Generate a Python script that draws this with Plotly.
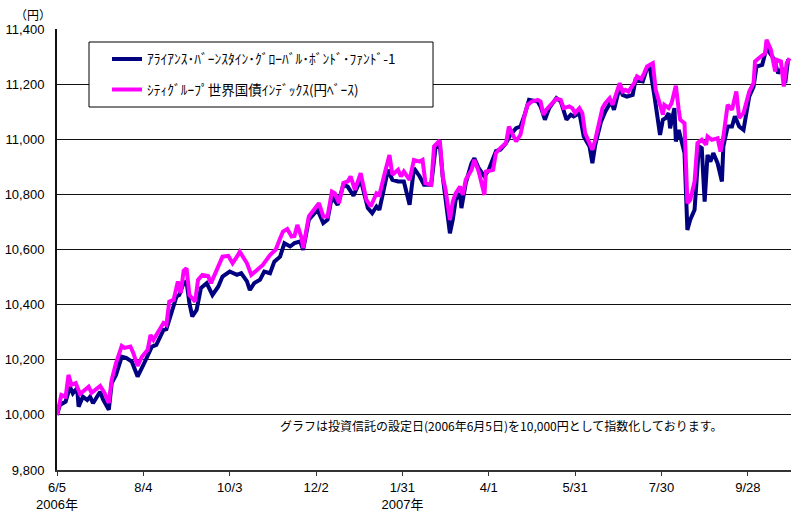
import pandas as pd
import plotly.graph_objects as go

LAUNCH = "2006-06-05"

# days since launch (2006-06-05) and index values
fund_days = [0, 2, 6, 9, 11, 14, 15, 18, 21, 23, 25, 30, 32, 36, 38, 41, 45, 48, 52, 56,
             60, 63, 66, 69, 74, 76, 80, 83, 85, 88, 90, 92, 94, 97, 100, 104, 108, 112, 115, 120,
             125, 128, 132, 134, 137, 141, 144, 148, 151, 155, 158, 162, 165, 169, 171, 175, 181, 185, 188, 191,
             195, 199, 202, 206, 211, 216, 219, 222, 224, 226, 230, 233, 237, 241, 245, 248, 252, 255, 260, 263,
             266, 268, 270, 273, 275, 277, 280, 281, 284, 288, 290, 293, 297, 300, 305, 308, 312, 315, 319, 322,
             325, 328, 334, 336, 339, 342, 347, 350, 354, 357, 359, 363, 366, 370, 372, 374, 378, 381, 385, 387,
             391, 393, 396, 400, 402, 407, 410, 412, 415, 417, 419, 421, 423, 425, 426, 429, 430, 432, 434, 436,
             438, 440, 443, 446, 448, 450, 452, 454, 456, 459, 462, 463, 466, 469, 471, 474, 477, 481, 484, 486,
             490, 493, 497, 499, 501, 504, 506, 508]
fund_values = [10000, 10036, 10048, 10102, 10078, 10098, 10030, 10066, 10054, 10066, 10042, 10084, 10056, 10018, 10115, 10145, 10211, 10207, 10193, 10139,
               10181, 10211, 10248, 10254, 10308, 10311, 10375, 10429, 10435, 10478, 10484, 10405, 10357, 10381, 10460, 10478, 10435, 10465, 10502, 10520,
               10508, 10514, 10484, 10453, 10478, 10490, 10520, 10514, 10556, 10574, 10623, 10611, 10623, 10629, 10599, 10708, 10744, 10696, 10708, 10792,
               10762, 10835, 10828, 10795, 10853, 10750, 10732, 10756, 10744, 10792, 10889, 10853, 10847, 10847, 10762, 10895, 10865, 10835, 10835, 10968,
               10980, 10865, 10792, 10659, 10708, 10780, 10804, 10750, 10841, 10913, 10931, 10895, 10865, 10889, 10957, 10962, 10986, 11016, 11040, 11046,
               11090, 11143, 11137, 11119, 11071, 11113, 11149, 11137, 11071, 11089, 11083, 11095, 11010, 10974, 10913, 10980, 11064, 11101, 11137, 11107,
               11191, 11161, 11155, 11161, 11216, 11210, 11258, 11258, 11161, 11095, 11016, 11071, 11077, 11095, 11040, 11113, 10992, 11034, 10998, 10950,
               10671, 10708, 10744, 10974, 10968, 10774, 10943, 10919, 10950, 10913, 10847, 10974, 11046, 11046, 11083, 11046, 11034, 11155, 11191, 11264,
               11270, 11331, 11300, 11276, 11240, 11258, 11204, 11290]

index_days = [0, 3, 6, 8, 10, 13, 16, 18, 22, 24, 30, 33, 36, 38, 41, 45, 47, 51, 53, 56,
              59, 63, 65, 67, 71, 74, 76, 78, 81, 84, 86, 88, 90, 92, 96, 98, 101, 105, 107, 111,
              115, 119, 122, 125, 127, 132, 135, 139, 143, 148, 152, 155, 157, 160, 163, 165, 167, 170, 171, 175,
              180, 182, 185, 188, 191, 193, 196, 199, 202, 204, 207, 211, 215, 218, 222, 224, 228, 231, 233, 237,
              239, 241, 245, 248, 252, 254, 256, 260, 262, 266, 268, 270, 273, 275, 277, 280, 282, 284, 288, 290,
              293, 297, 298, 303, 305, 308, 312, 314, 319, 322, 325, 327, 330, 334, 336, 338, 340, 342, 344, 347,
              350, 352, 356, 358, 360, 363, 365, 367, 370, 372, 374, 377, 379, 381, 384, 386, 388, 391, 393, 395,
              397, 401, 403, 406, 408, 410, 412, 414, 416, 418, 421, 422, 425, 427, 430, 432, 433, 436, 438, 440,
              443, 445, 448, 451, 452, 455, 459, 461, 463, 466, 469, 472, 474, 477, 481, 484, 485, 489, 492, 493,
              496, 499, 500, 503, 505, 507, 509]
index_values = [10000, 10072, 10066, 10145, 10109, 10115, 10076, 10084, 10102, 10080, 10105, 10080, 10043, 10127, 10188, 10250, 10243, 10248, 10225, 10178,
                10211, 10236, 10290, 10272, 10308, 10333, 10326, 10411, 10417, 10484, 10442, 10523, 10532, 10435, 10411, 10490, 10508, 10504, 10478, 10526,
                10574, 10577, 10550, 10574, 10592, 10550, 10508, 10526, 10544, 10580, 10600, 10640, 10665, 10674, 10647, 10649, 10689, 10641, 10605, 10720,
                10756, 10768, 10720, 10720, 10810, 10804, 10768, 10841, 10847, 10865, 10816, 10877, 10780, 10756, 10804, 10798, 10883, 10943, 10871, 10889,
                10865, 10883, 10853, 10925, 10919, 10925, 10841, 10835, 10974, 10996, 10865, 10816, 10707, 10774, 10804, 10828, 10798, 10853, 10889, 10925,
                10883, 10798, 10883, 10889, 10950, 10968, 10986, 11046, 10992, 11016, 11089, 11125, 11137, 11143, 11137, 11089, 11107, 11119, 11127, 11147,
                11143, 11113, 11119, 11113, 11095, 11113, 11095, 11022, 10986, 10962, 10998, 11064, 11113, 11131, 11149, 11125, 11161, 11204, 11173, 11179,
                11173, 11204, 11228, 11219, 11240, 11264, 11270, 11276, 11179, 11137, 11089, 11125, 11113, 11131, 11194, 11107, 11071, 11058, 10768, 10780,
                10847, 10986, 10998, 10980, 11010, 10998, 11004, 10955, 11010, 11125, 11107, 11173, 11077, 11095, 11173, 11204, 11282, 11300, 11312, 11361,
                11325, 11246, 11288, 11282, 11191, 11276, 11294]

fund_name = "ｱﾗｲｱﾝｽ･ﾊﾞｰﾝｽﾀｲﾝ･ｸﾞﾛｰﾊﾞﾙ･ﾎﾞﾝﾄﾞ･ﾌｧﾝﾄﾞ-1"
index_name = "ｼﾃｨｸﾞﾙｰﾌﾟ世界国債ｲﾝﾃﾞｯｸｽ(円ﾍﾞｰｽ)"

tick_dates = ["2006-06-05", "2006-08-04", "2006-10-03", "2006-12-02", "2007-01-31",
              "2007-04-01", "2007-05-31", "2007-07-30", "2007-09-28"]
tick_labels = ["6/5<br>2006年", "8/4", "10/3", "12/2", "1/31<br>2007年",
               "4/1", "5/31", "7/30", "9/28"]
y_ticks = [9800, 10000, 10200, 10400, 10600, 10800, 11000, 11200, 11400]

note_text = "グラフは投資信託の設定日(2006年6月5日)を10,000円として指数化しております。"
unit_text = "（円）"

base = pd.Timestamp(LAUNCH)
fund_dates = base + pd.to_timedelta(fund_days, unit="D")
index_dates = base + pd.to_timedelta(index_days, unit="D")

FONT = "Liberation Sans, Arial, Noto Sans CJK JP, sans-serif"
JFONT = "Noto Sans CJK JP, Liberation Sans, sans-serif"

fig = go.Figure()
fig.add_trace(go.Scatter(x=fund_dates, y=fund_values, mode="lines", name=fund_name,
                         legendgroup="a",
                         line=dict(color="#000080", width=4)))
fig.add_trace(go.Scatter(x=index_dates, y=index_values, mode="lines", name=index_name,
                         legendgroup="b",
                         line=dict(color="#FF00FF", width=4)))

fig.update_layout(
    width=791, height=513,
    margin=dict(l=57, r=0, t=29, b=43, autoexpand=False),
    paper_bgcolor="white", plot_bgcolor="white",
    font=dict(family=FONT, size=13, color="black"),
    showlegend=True,
    legend=dict(x=0.0681, y=0.9666, xanchor="left", yanchor="top",
                bgcolor="rgba(0,0,0,0)", borderwidth=0,
                font=dict(family=JFONT, size=13.5, color="black"),
                tracegroupgap=10, itemwidth=30),
    # legend frame (white box over the grid, as in the original)
    shapes=[dict(type="rect", xref="paper", yref="paper",
                 x0=0.0436, x1=0.5123, y0=0.8231, y1=0.9705,
                 line=dict(color="black", width=1), fillcolor="white",
                 layer="above")],
    xaxis=dict(type="date", range=["2006-06-05", "2007-10-28"], automargin=False,
               tickmode="array", tickvals=tick_dates, ticktext=tick_labels,
               ticks="outside", ticklen=4, tickcolor="#333", tickwidth=1,
               showgrid=False, showline=True, linecolor="#333", linewidth=2,
               tickfont=dict(family=FONT, size=13), zeroline=False),
    yaxis=dict(range=[9800, 11400], tickmode="array", tickvals=y_ticks, automargin=False,
               tickformat=",d", showgrid=True, gridcolor="#111", gridwidth=1,
               showline=True, linecolor="#111", linewidth=2, ticks="",
               ticklabelstandoff=8,
               tickfont=dict(family=FONT, size=13), zeroline=False),
    annotations=[
        dict(text=note_text, xref="paper", yref="paper", x=0.605, y=0.102,
             xanchor="center", yanchor="middle", showarrow=False,
             font=dict(family=JFONT, size=12, color="black")),
        dict(text=unit_text, xref="paper", yref="paper", x=-0.033, y=1.0,
             xanchor="center", yanchor="bottom", yshift=4, showarrow=False,
             font=dict(family=JFONT, size=12, color="black")),
    ],
)

fig.write_html("out.html", config={"displayModeBar": False},
               post_script="document.body.style.margin='0';document.body.style.overflow='hidden';")
